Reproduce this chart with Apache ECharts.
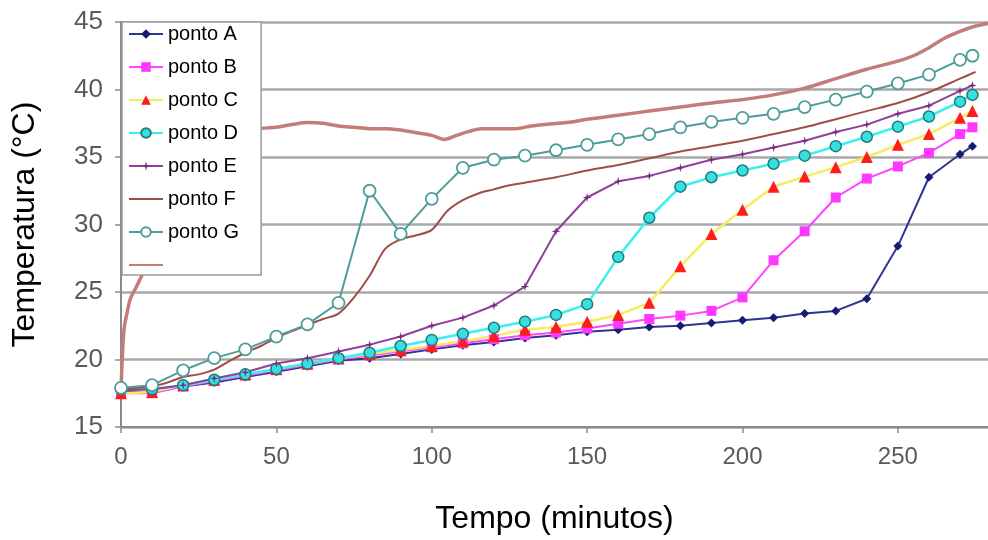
<!DOCTYPE html>
<html>
<head>
<meta charset="utf-8">
<script src="https://cdn.jsdelivr.net/npm/echarts@6/dist/echarts.min.js"></script>
<style>
html,body{margin:0;padding:0;background:#fff;}
#chart{width:988px;height:540px;}
</style>
</head>
<body>
<div id="chart"></div>
<script>
// ---- data ----
const times = [0,10,20,30,40,50,60,70,80,90,100,110,120,130,140,150,160,170,180,190,200,210,220,230,240,250,260,270,274];
const pontoA = [17.6,17.6,18.0,18.3,18.7,19.1,19.5,19.9,20.1,20.4,20.75,21.05,21.3,21.6,21.8,22.05,22.2,22.4,22.5,22.7,22.9,23.1,23.4,23.6,24.5,28.4,33.5,35.2,35.8];
const pontoB = [17.5,17.5,18.0,18.4,18.8,19.2,19.6,20.0,20.3,20.6,20.9,21.2,21.5,21.8,22.0,22.3,22.65,23.0,23.25,23.6,24.6,27.35,29.5,32.0,33.4,34.3,35.3,36.7,37.2];
const pontoC = [17.5,17.6,18.1,18.5,18.9,19.3,19.7,20.1,20.4,20.7,21.0,21.35,21.75,22.2,22.4,22.8,23.3,24.2,26.9,29.3,31.1,32.8,33.55,34.25,35.0,35.9,36.7,37.9,38.4];
const pontoD = [17.8,17.8,18.1,18.5,18.9,19.3,19.7,20.1,20.5,21.0,21.45,21.9,22.35,22.8,23.3,24.1,27.6,30.5,32.8,33.5,34.0,34.5,35.1,35.8,36.5,37.25,38.0,39.1,39.6];
const pontoE = [17.7,17.8,18.1,18.6,19.05,19.7,20.1,20.6,21.1,21.7,22.5,23.1,24.0,25.4,29.5,32.0,33.2,33.6,34.2,34.8,35.2,35.7,36.2,36.85,37.4,38.2,38.8,39.9,40.3];
const pontoG = [17.9,18.1,19.2,20.1,20.75,21.7,22.6,24.2,32.5,29.3,31.9,34.2,34.8,35.1,35.5,35.9,36.3,36.7,37.2,37.6,37.9,38.2,38.7,39.25,39.85,40.45,41.1,42.2,42.5];
const timesF = [0,5,10,15,20,25,30,35,40,45,50,55,60,65,70,75,80,85,90,95,100,105,110,115,120,125,130,140,150,160,170,180,190,200,210,220,230,240,250,260,270,275];
const pontoF = [17.8,17.9,18.0,18.3,18.7,18.9,19.25,19.9,20.5,21.0,21.6,22.1,22.55,23.0,23.4,24.6,26.2,28.2,28.9,29.2,29.6,31.0,31.8,32.3,32.6,32.9,33.1,33.5,34.0,34.4,34.9,35.4,35.8,36.2,36.7,37.2,37.8,38.4,39.0,39.8,40.8,41.3];
const timesH = [0,0.5,1,2,3,5,7.5,10,15,20,25,30,35,40,45,50,55,60,65,70,75,80,85,90,95,100,104,108,112,116,120,127,132,138,145,150,160,170,180,190,200,210,220,230,240,250,255,260,265,270,275,279];
const pontoH = [17.8,20.5,22.3,23.5,24.5,25.4,26.6,27.6,29.5,31.5,33.5,35.0,36.2,36.8,37.1,37.2,37.4,37.55,37.5,37.3,37.2,37.1,37.1,37.0,36.8,36.6,36.3,36.6,36.9,37.1,37.1,37.1,37.3,37.45,37.6,37.8,38.1,38.4,38.7,39.0,39.25,39.6,40.1,40.8,41.5,42.1,42.5,43.1,43.8,44.3,44.7,44.9];
const names = ['ponto A','ponto B','ponto C','ponto D','ponto E','ponto F','ponto G',' '];
const yTicks = [15,20,25,30,35,40,45];
const xTicks = [0,50,100,150,200,250];

function pairs(xs, ys){ return xs.map((x,i)=>[x, ys[i]]); }

const FONT = "'Liberation Sans', Arial, sans-serif";
const NOFILL = 'rgba(0,0,0,0)';
const chart = echarts.init(document.getElementById('chart'));
const option = {
  animation: false,
  backgroundColor: '#ffffff',
  grid: {left: 121, right: 0, top: 22, bottom: 102, containLabel: false},
  xAxis: {
    type: 'value', min: xTicks[0], max: 279, interval: 50,
    name: 'Tempo (minutos)', nameLocation: 'middle', nameGap: 76,
    nameTextStyle: {fontFamily: FONT, fontSize: 32, color: '#000'},
    axisLine: {show: true, lineStyle: {color: '#8a8a8a', width: 2}},
    axisTick: {show: true, length: 6, lineStyle: {color: '#8a8a8a', width: 1.5}},
    axisLabel: {fontFamily: FONT, fontSize: 24, color: '#5a5a5a', margin: 18, showMaxLabel: false},
    splitLine: {show: false}
  },
  yAxis: {
    type: 'value', min: yTicks[0], max: yTicks[yTicks.length-1], interval: 5,
    name: 'Temperatura (°C)', nameLocation: 'middle', nameGap: 80, nameRotate: 90,
    nameTextStyle: {fontFamily: FONT, fontSize: 32, color: '#000'},
    axisLine: {show: true, lineStyle: {color: '#8a8a8a', width: 2}},
    axisTick: {show: true, length: 6, lineStyle: {color: '#8a8a8a', width: 1.5}},
    axisLabel: {fontFamily: FONT, fontSize: 26, color: '#5a5a5a', margin: 18},
    splitLine: {show: true, lineStyle: {color: '#a8a8a8', width: 2.5}}
  },
  legend: {
    data: names, orient: 'vertical', left: 122, top: 22,
    backgroundColor: '#ffffff', borderColor: '#9a9a9a', borderWidth: 1.5,
    padding: [2, 22, 0, 6], itemGap: 13, itemWidth: 34, itemHeight: 12,
    textStyle: {fontFamily: FONT, fontSize: 20, color: '#000'},
    z: 10
  },
  series: [
    {name: names[0], type: 'line', data: pairs(times, pontoA), symbol: 'diamond', symbolSize: 9,
     lineStyle: {color: '#2e3690', width: 2}, itemStyle: {color: '#141c72'}},
    {name: names[1], type: 'line', data: pairs(times, pontoB), symbol: 'rect', symbolSize: 10,
     lineStyle: {color: '#ff45ff', width: 2}, itemStyle: {color: '#ff38ff'}},
    {name: names[2], type: 'line', data: pairs(times, pontoC), symbol: 'triangle', symbolSize: 12,
     lineStyle: {color: '#f6ec5e', width: 2.5}, itemStyle: {color: '#ff1c1c'}},
    {name: names[3], type: 'line', data: pairs(times, pontoD), symbol: 'circle', symbolSize: 11,
     lineStyle: {color: '#38f0f0', width: 2.5}, itemStyle: {color: '#3adede', borderColor: '#1d7d7d', borderWidth: 1.5}},
    {name: names[4], type: 'line', data: pairs(times, pontoE), symbol: 'path://M5,0 L6,4 L10,5 L6,6 L5,10 L4,6 L0,5 L4,4 Z', symbolSize: 9,
     lineStyle: {color: '#8f419a', width: 2}, itemStyle: {color: '#7a2a86'}},
    {name: names[5], type: 'line', data: pairs(timesF, pontoF), symbol: 'none', smooth: 0.3,
     lineStyle: {color: '#a04e4a', width: 2}, itemStyle: {color: NOFILL, borderWidth: 0}},
    {name: names[6], type: 'line', data: pairs(times, pontoG), symbol: 'circle', symbolSize: 12,
     lineStyle: {color: '#4c9e98', width: 2}, itemStyle: {color: '#ffffff', borderColor: '#4c9e98', borderWidth: 1.8}},
    {name: names[7], type: 'line', data: pairs(timesH, pontoH), symbol: 'none', smooth: 0.3,
     lineStyle: {color: '#c47c78', width: 3.5}, itemStyle: {color: NOFILL, borderWidth: 0}}
  ]
};
chart.setOption(option);
</script>
</body>
</html>
